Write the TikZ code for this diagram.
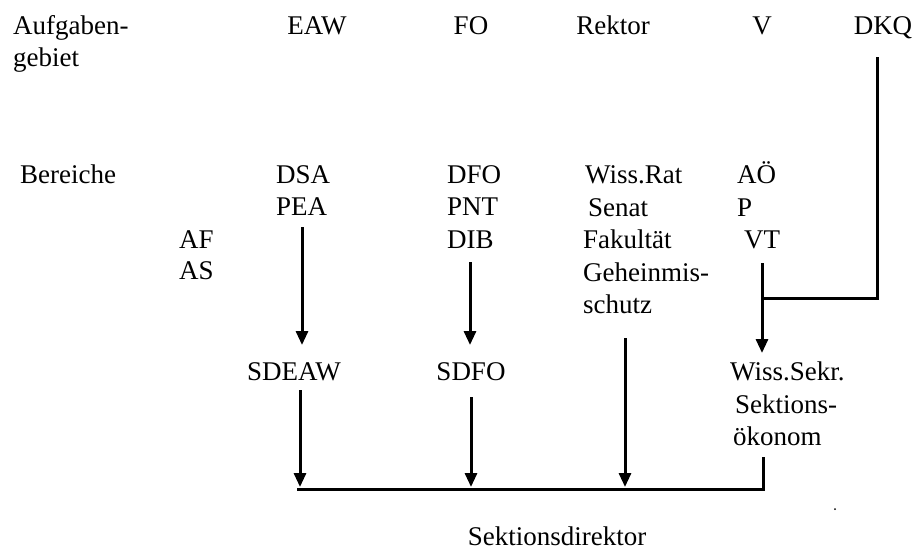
\documentclass[tikz,border=0pt]{standalone}
\usepackage{fontspec}
\setmainfont{Liberation Serif}
\usetikzlibrary{arrows.meta}
\begin{document}
\begin{tikzpicture}[x=1pt,y=-1pt,
  lbl/.style={inner sep=0pt, anchor=base west, font=\fontsize{27}{32}\selectfont},
  clbl/.style={lbl, anchor=base},
  conn/.style={line width=3pt},
  arr/.style={conn, -{Triangle[length=14pt,width=12pt]}}]
\useasboundingbox (0,0) rectangle (916,550);
% header row
\node[lbl] (aufg) at (13,34) {Aufgaben-};
\node[lbl] (gebiet) at (13,66) {gebiet};
\node[clbl] (eaw) at (317,34) {EAW};
\node[clbl] (fo) at (471,34) {FO};
\node[clbl] (rektor) at (613,34) {Rektor};
\node[clbl] (v) at (762,34) {V};
\node[clbl] (dkq) at (883,34) {DKQ};
% Bereiche
\node[lbl] (ber) at (20,183) {Bereiche};
\node[lbl] (dsa) at (276,183) {DSA};
\node[lbl] (pea) at (276,215) {PEA};
\node[lbl] (af) at (179,248) {AF};
\node[lbl] (as) at (179,279) {AS};
\node[lbl] (dfo) at (447,183) {DFO};
\node[lbl] (pnt) at (447,215) {PNT};
\node[lbl] (dib) at (447,248) {DIB};
\node[lbl] (wrat) at (585,183) {Wiss.Rat};
\node[lbl] (senat) at (588,216) {Senat};
\node[lbl] (fak) at (583,248) {Fakultät};
\node[lbl] (geh) at (583,281) {Geheinmis-};
\node[lbl] (schutz) at (583,313) {schutz};
\node[lbl] (aoe) at (737,183) {AÖ};
\node[lbl] (p) at (737,216) {P};
\node[lbl] (vt) at (744,248) {VT};
% middle
\node[clbl] (sdeaw) at (294,380) {SDEAW};
\node[clbl] (sdfo) at (471,380) {SDFO};
\node[lbl] (wsekr) at (730,380) {Wiss.Sekr.};
\node[lbl] (sekt) at (735,413) {Sektions-};
\node[lbl] (oek) at (733,445) {ökonom};
\node[clbl] (sdir) at (557,545) {Sektionsdirektor};
% connector points
\coordinate (eawS) at (302,227);
\coordinate (eawT) at (302,345);
\coordinate (foS) at (470,262);
\coordinate (foT) at (470,345);
\coordinate (vS) at (762,263);
\coordinate (vT) at (762,353);
\coordinate (dkqS) at (877,57);
\coordinate (dkqC) at (877,298);
\coordinate (dkqJ) at (762,298);
\coordinate (sdeawS) at (300,390);
\coordinate (sdeawT) at (300,487);
\coordinate (sdfoS) at (471,397);
\coordinate (sdfoT) at (471,487);
\coordinate (rekS) at (625,338);
\coordinate (rekT) at (625,487);
\coordinate (oekS) at (763,457);
\coordinate (bR) at (763,489);
\coordinate (bL) at (297,489);
% connectors
\draw[arr] (eawS) -- (eawT);
\draw[arr] (foS) -- (foT);
\draw[arr] (vS) -- (vT);
\draw[conn] (dkqS) -- (dkqC) -- (dkqJ);
\draw[arr] (sdeawS) -- (sdeawT);
\draw[arr] (sdfoS) -- (sdfoT);
\draw[arr] (rekS) -- (rekT);
\draw[conn] (bL) -- (bR) -- (oekS);
\fill (835,509) circle (1pt);
\end{tikzpicture}
\end{document}
